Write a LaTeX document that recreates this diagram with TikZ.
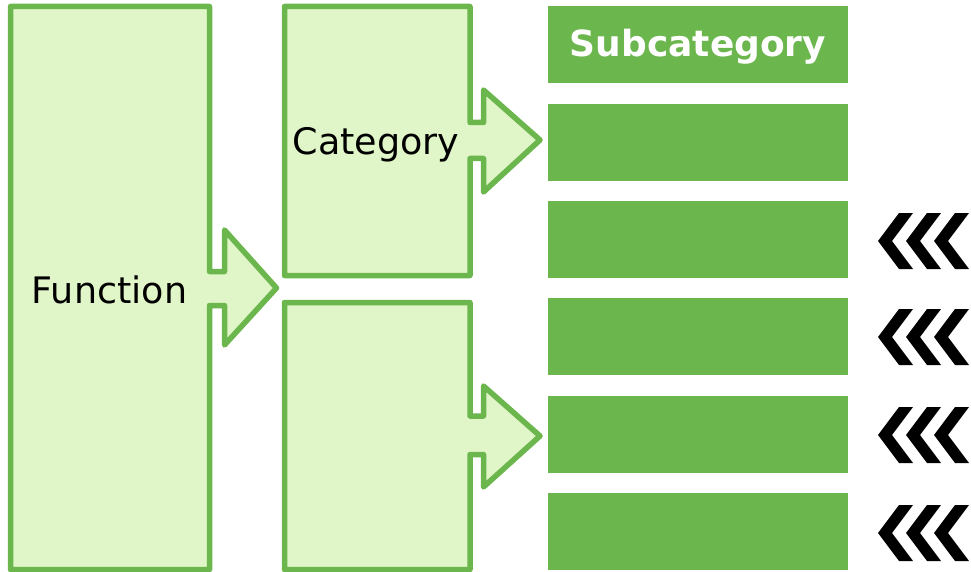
\documentclass[tikz,border=0pt]{standalone}
\usepackage{fontspec}
\setmainfont{DejaVu Sans}
\definecolor{gstroke}{HTML}{6CB64E}
\definecolor{gfill}{HTML}{E1F6C8}
\definecolor{gbar}{HTML}{6CB64E}
\begin{document}
\begin{tikzpicture}[x=1pt,y=-1pt,
  shapebox/.style={draw=gstroke,fill=gfill,line width=5.5pt,line join=round},
  bar/.style={fill=gbar},
  lbl/.style={font=\fontsize{36.5}{40}\selectfont,text=black,anchor=base,inner sep=0pt},
  sublbl/.style={font=\fontsize{36}{40}\selectfont\bfseries,text=white,anchor=base,inner sep=0pt},
  chev/.style={fill=black}]
\useasboundingbox (0,0) rectangle (971,572);
% Function box with arrow
\draw[shapebox] (10.5,6.5) -- (209.5,6.5) -- (209.5,271.5) -- (224.5,271.5) -- (224.5,230) -- (276.5,288) -- (224.5,345) -- (224.5,305.5) -- (209.5,305.5) -- (209.5,569.5) -- (10.5,569.5) -- cycle;
\node[lbl] (function) at (109.5,303) {Function};
% Category box 1
\draw[shapebox] (284.5,6.5) -- (470,6.5) -- (470,122.5) -- (483.5,122.5) -- (483.5,90) -- (540,140) -- (483.5,192) -- (483.5,158.5) -- (470,158.5) -- (470,275.5) -- (284.5,275.5) -- cycle;
\node[lbl] (category) at (376,155) {Category};
% Category box 2
\draw[shapebox] (284.5,302.5) -- (470,302.5) -- (470,416) -- (483.5,416) -- (483.5,386) -- (540,436) -- (483.5,487) -- (483.5,454.5) -- (470,454.5) -- (470,569.5) -- (284.5,569.5) -- cycle;
% Subcategory bars
\fill[bar] (548,6) rectangle (848,83);
\node[sublbl] (subcat) at (698,57) {Subcategory};
\fill[bar] (548,104) rectangle (848,181);
\fill[bar] (548,201) rectangle (848,278);
\fill[bar] (548,298) rectangle (848,375);
\fill[bar] (548,396) rectangle (848,473);
\fill[bar] (548,493) rectangle (848,570);
% Chevrons
\foreach \yc in {241,337,435,533}{
  \foreach \xo in {878,906,934}{
    \fill[chev] (\xo,\yc) -- (\xo+21,\yc-28) -- (\xo+35,\yc-28) -- (\xo+14,\yc) -- (\xo+35,\yc+28) -- (\xo+21,\yc+28) -- cycle;
  }
}
\end{tikzpicture}
\end{document}
